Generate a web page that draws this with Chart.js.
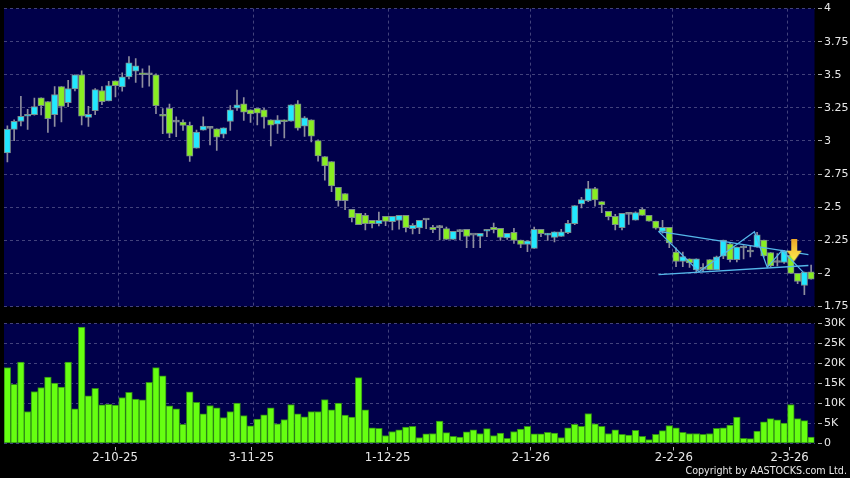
<!DOCTYPE html>
<html>
<head>
<meta charset="utf-8">
<title>Chart</title>
<script src="https://cdn.jsdelivr.net/npm/chart.js@4"></script>
<style>
    html, body { margin: 0; padding: 0; background: #000; overflow: hidden; }
    canvas { position: absolute; left: 0; }
    #priceChart { top: 0; }
    #volumeChart { top: 315px; }
</style>
</head>
<body>
<canvas id="priceChart" width="850" height="315"></canvas>
<canvas id="volumeChart" width="850" height="163"></canvas>
<script>
// Trading days, d-m-yy
const categories = [
    '9-9-25','10-9-25','11-9-25','12-9-25','15-9-25','16-9-25','17-9-25','18-9-25','19-9-25','22-9-25','23-9-25','24-9-25','25-9-25','26-9-25','29-9-25','30-9-25',
    '2-10-25','3-10-25','6-10-25','8-10-25','9-10-25','10-10-25','13-10-25','14-10-25','15-10-25','16-10-25','17-10-25','20-10-25','21-10-25','22-10-25','23-10-25','24-10-25','27-10-25','28-10-25','30-10-25','31-10-25',
    '3-11-25','4-11-25','5-11-25','6-11-25','7-11-25','10-11-25','11-11-25','12-11-25','13-11-25','14-11-25','17-11-25','18-11-25','19-11-25','20-11-25','21-11-25','24-11-25','25-11-25','26-11-25','27-11-25','28-11-25',
    '1-12-25','2-12-25','3-12-25','4-12-25','5-12-25','8-12-25','9-12-25','10-12-25','11-12-25','12-12-25','15-12-25','16-12-25','17-12-25','18-12-25','19-12-25','22-12-25','23-12-25','24-12-25','29-12-25','30-12-25','31-12-25',
    '2-1-26','5-1-26','6-1-26','7-1-26','8-1-26','9-1-26','12-1-26','13-1-26','14-1-26','15-1-26','16-1-26','19-1-26','20-1-26','21-1-26','22-1-26','23-1-26','26-1-26','27-1-26','28-1-26','29-1-26','30-1-26',
    '2-2-26','3-2-26','4-2-26','5-2-26','6-2-26','9-2-26','10-2-26','11-2-26','12-2-26','13-2-26','16-2-26','20-2-26','23-2-26','24-2-26','25-2-26','26-2-26','27-2-26',
    '2-3-26','3-3-26','4-3-26','5-3-26','6-3-26'
];

const opens = [
    2.910,3.087,3.147,3.187,3.199,3.326,3.298,3.199,3.410,3.289,3.393,3.5,3.177,3.229,3.381,3.303,3.455,3.408,3.483,3.527,
    3.515,3.5,3.5,3.201,3.246,3.142,3.142,3.119,2.945,3.082,3.095,3.092,3.052,3.147,3.247,3.28,3.235,3.247,3.235,3.16,
    3.127,3.16,3.15,3.28,3.112,3.16,3.002,2.882,2.844,2.649,2.603,2.483,2.453,2.438,2.4,2.375,2.431,2.39,2.4,2.438,
    2.338,2.343,2.403,2.348,2.345,2.338,2.256,2.315,2.333,2.288,2.278,2.318,2.348,2.34,2.268,2.31,2.251,2.218,2.188,2.333,
    2.288,2.271,2.278,2.308,2.375,2.525,2.547,2.64,2.542,2.468,2.43,2.345,2.445,2.401,2.483,2.438,2.394,2.317,2.347,2.161,
    2.089,2.109,2.025,2.03,2.104,2.025,2.129,2.223,2.104,2.191,2.161,2.198,2.252,2.156,2.082,2.082,2.136,2,1.908,2.012
];
const highs = [
    3.114,3.159,3.338,3.239,3.323,3.326,3.298,3.410,3.410,3.458,3.5,3.53,3.261,3.396,3.41,3.45,3.455,3.515,3.637,3.622,
    3.545,3.567,3.507,3.244,3.279,3.182,3.159,3.142,3.082,3.182,3.105,3.092,3.1,3.268,3.385,3.328,3.235,3.247,3.247,3.16,
    3.192,3.16,3.273,3.305,3.185,3.16,3.009,2.882,2.844,2.649,2.603,2.483,2.453,2.453,2.4,2.463,2.431,2.431,2.438,2.438,
    2.375,2.4,2.408,2.363,2.363,2.35,2.318,2.33,2.333,2.288,2.303,2.333,2.38,2.34,2.303,2.34,2.251,2.246,2.35,2.333,
    2.303,2.313,2.333,2.4,2.512,2.575,2.695,2.65,2.542,2.468,2.445,2.453,2.453,2.465,2.495,2.438,2.394,2.401,2.347,2.193,
    2.161,2.109,2.109,2.074,2.104,2.131,2.252,2.235,2.198,2.21,2.21,2.309,2.252,2.156,2.149,2.173,2.149,2,2.01,2.062
];
const lows = [
    2.841,3.002,3.114,3.087,3.194,3.196,3.065,3.109,3.144,3.259,3.378,3.122,3.109,3.199,3.274,3.303,3.333,3.376,3.468,3.443,
    3.405,3.413,3.206,3.055,3.025,3.032,3.08,2.846,2.945,3.082,2.97,2.929,3.022,3.08,3.23,3.155,3.14,3.122,3.097,2.962,
    3.057,3.022,3.15,3.082,3.034,2.992,2.847,2.704,2.616,2.508,2.481,2.388,2.368,2.328,2.343,2.358,2.36,2.328,2.333,2.313,
    2.298,2.3,2.338,2.308,2.253,2.256,2.256,2.253,2.193,2.193,2.193,2.276,2.305,2.248,2.256,2.226,2.193,2.163,2.188,2.276,
    2.248,2.238,2.278,2.3,2.368,2.495,2.542,2.507,2.458,2.403,2.328,2.328,2.37,2.401,2.438,2.394,2.334,2.304,2.193,2.05,
    2.05,2.045,2.012,2.012,2.025,2.025,2.111,2.087,2.087,2.109,2.124,2.198,2.124,2.05,2.055,2.074,2,1.921,1.839,1.955
];
const closes = [
    3.089,3.149,3.187,3.201,3.259,3.266,3.169,3.351,3.261,3.396,3.5,3.187,3.201,3.388,3.296,3.418,3.418,3.485,3.59,3.567,
    3.5,3.5,3.266,3.187,3.057,3.142,3.117,2.885,3.067,3.112,3.095,3.029,3.1,3.235,3.273,3.217,3.205,3.21,3.18,3.12,
    3.16,3.145,3.273,3.097,3.175,3.037,2.887,2.811,2.661,2.548,2.548,2.42,2.368,2.375,2.375,2.4,2.393,2.431,2.438,2.345,
    2.363,2.4,2.403,2.33,2.345,2.256,2.318,2.315,2.278,2.288,2.303,2.333,2.33,2.271,2.303,2.248,2.218,2.246,2.333,2.3,
    2.303,2.313,2.313,2.378,2.512,2.557,2.64,2.555,2.517,2.428,2.368,2.453,2.445,2.458,2.438,2.394,2.342,2.347,2.23,2.089,
    2.126,2.079,2.109,2.03,2.025,2.124,2.252,2.104,2.198,2.191,2.161,2.29,2.131,2.055,2.082,2.168,2,1.938,2.01,1.955
];
const volumes = [
    19000,14800,20400,8000,13000,14000,16600,15100,14100,20400,8700,29100,11900,13800,9700,9800,9600,11500,12800,11100,
    10900,15300,19000,16900,9400,8700,4800,12900,10300,7400,9500,8900,6500,8000,10100,7000,4400,6100,7200,8900,
    4900,6000,9750,7400,6700,8000,8000,11000,8400,10100,7100,6600,16500,8400,3900,3800,2000,3000,3400,4100,
    4300,1500,2400,2500,5600,2700,1800,1600,2900,3400,2500,3700,2000,2600,1300,3000,3600,4300,2400,2400,
    2800,2600,1500,3900,4800,4300,7500,4900,4300,2500,3400,2300,2100,3300,1800,1000,2300,3200,4500,3900,
    2800,2500,2500,2300,2500,3800,3900,4600,6600,1300,1200,3100,5400,6200,5900,5100,9750,6200,5700,1600
];

// Axis labels
const dateTickLabels = ['2-10-25', '3-11-25', '1-12-25', '2-1-26', '2-2-26', '2-3-26'];
const priceTicks = [1.75, 2, 2.25, 2.5, 2.75, 3, 3.25, 3.5, 3.75, 4];
const volumeTicks = [0, 5000, 10000, 15000, 20000, 25000, 30000];

// Hand drawn lines on the price panel, x is the trading day number
const upperTrend = [{ x: 96.4, y: 2.317 }, { x: 118.6, y: 2.141 }];
const lowerTrend = [{ x: 96.4, y: 1.990 }, { x: 118.6, y: 2.059 }];
const zigzag = [
    { x: 96.4, y: 2.317 }, { x: 102.4, y: 2.012 }, { x: 110.6, y: 2.314 },
    { x: 112.5, y: 2.045 }, { x: 114.7, y: 2.173 }, { x: 117.9, y: 2.005 }
];
const signalArrow = [{ x: 116.5, y: 2.175 }];

const COLORS = {
    panel: '#00004a',
    grid: '#42427c',
    text: '#e8e8e8',
    tick: '#b0b0b0',
    wick: '#8e8e9e',
    bodyEdge: '#7c8c8c',
    up: '#22e8ff',
    down: '#88ee22',
    flat: '#8e8e9e',
    volume: '#66ff11',
    volumeBorder: '#2f8a16',
    trend: '#55b8ea'
};
const FONT = { family: '"DejaVu Sans", sans-serif', size: 11 };
const DASH = [3, 3];

// Fill the plot area with the navy panel colour
const panelBackground = {
    id: 'panelBackground',
    beforeDraw(chart) {
        const a = chart.chartArea;
        chart.ctx.save();
        chart.ctx.fillStyle = COLORS.panel;
        chart.ctx.fillRect(a.left, a.top, a.right - a.left, a.bottom - a.top);
        chart.ctx.restore();
    }
};

// Yellow down arrow, used as a point image
function makeArrow() {
    const c = document.createElement('canvas');
    c.width = 16;
    c.height = 23;
    const g = c.getContext('2d');
    const grad = g.createLinearGradient(0, 0, 0, 23);
    grad.addColorStop(0, '#eca628');
    grad.addColorStop(1, '#fff050');
    g.fillStyle = grad;
    g.beginPath();
    g.moveTo(5, 0);
    g.lineTo(11, 0);
    g.lineTo(11, 12);
    g.lineTo(15.5, 12);
    g.lineTo(8, 22.5);
    g.lineTo(0.5, 12);
    g.lineTo(5, 12);
    g.closePath();
    g.fill();
    return c;
}

// Gridlines sit on the boundary after the first trading day of each month
function monthGridTicks(scale) {
    scale.ticks = dateTickLabels.map(label => ({ value: categories.indexOf(label) + 0.5 }));
}

function gridOptions() {
    return { color: COLORS.grid, lineWidth: 1, drawTicks: false, tickLength: 0, offset: false };
}

function commonOptions(padding) {
    return {
        responsive: false,
        animation: false,
        devicePixelRatio: 1,
        layout: { autoPadding: false, padding: padding },
        plugins: { legend: { display: false }, tooltip: { enabled: false } }
    };
}

const bodyColors = closes.map((c, i) => c > opens[i] ? COLORS.up : c < opens[i] ? COLORS.down : COLORS.flat);

// Price chart
new Chart(document.getElementById('priceChart'), {
    type: 'bar',
    data: {
        labels: categories,
        datasets: [
            {
                type: 'line', xAxisID: 'xLine', yAxisID: 'y', order: 0,
                data: signalArrow, showLine: false,
                pointStyle: makeArrow(), pointRadius: 8, pointHoverRadius: 8
            },
            {
                type: 'line', xAxisID: 'xLine', yAxisID: 'y', order: 1, data: upperTrend,
                borderColor: COLORS.trend, borderWidth: 1.3, pointRadius: 0, tension: 0
            },
            {
                type: 'line', xAxisID: 'xLine', yAxisID: 'y', order: 1, data: lowerTrend,
                borderColor: COLORS.trend, borderWidth: 1.3, pointRadius: 0, tension: 0
            },
            {
                type: 'line', xAxisID: 'xLine', yAxisID: 'y', order: 1, data: zigzag,
                borderColor: COLORS.trend, borderWidth: 1.3, pointRadius: 0, tension: 0
            },
            {
                label: 'Body', order: 2, xAxisID: 'x', yAxisID: 'y', grouped: false,
                data: opens.map((o, i) => [o, closes[i]]),
                backgroundColor: bodyColors,
                borderColor: COLORS.bodyEdge, borderWidth: 1, borderSkipped: false,
                barThickness: 6.4, minBarLength: 2
            },
            {
                label: 'Wick', order: 3, xAxisID: 'x', yAxisID: 'y', grouped: false,
                data: lows.map((l, i) => [l, highs[i]]),
                backgroundColor: COLORS.wick, borderWidth: 0,
                barThickness: 1
            }
        ]
    },
    options: Object.assign(commonOptions({ left: 4, top: 5.6, right: 0, bottom: 8.4 }), {
        scales: {
            x: {
                type: 'category', offset: true,
                grid: { display: false },
                border: { display: false },
                ticks: { display: false, autoSkip: false },
                afterFit: s => { s.height = 0; }
            },
            // Linear twin of x, carries the month gridlines and the hand drawn lines
            xLine: {
                type: 'linear', min: -0.5, max: 119.5, offset: false,
                grid: gridOptions(),
                border: { display: false, dash: DASH },
                ticks: { display: false },
                afterBuildTicks: monthGridTicks,
                afterFit: s => { s.height = 0; }
            },
            y: {
                type: 'linear', position: 'right', min: 1.75, max: 4, weight: 0,
                grid: gridOptions(),
                border: { display: false, dash: DASH },
                ticks: { display: false },
                afterBuildTicks: s => { s.ticks = priceTicks.map(v => ({ value: v })); },
                afterFit: s => { s.width = 3.5; }
            },
            yLabels: {
                type: 'linear', position: 'right', min: 1.75, max: 4, weight: 1,
                grid: { drawOnChartArea: false, tickLength: 4, tickColor: COLORS.tick, tickWidth: 1 },
                border: { display: false },
                ticks: { color: COLORS.text, font: FONT, padding: 2, callback: v => String(v) },
                afterBuildTicks: s => { s.ticks = priceTicks.map(v => ({ value: v })); },
                afterFit: s => { s.width = 32; }
            }
        }
    }),
    plugins: [panelBackground]
});

// Volume chart
new Chart(document.getElementById('volumeChart'), {
    type: 'bar',
    data: {
        labels: categories,
        datasets: [{
            label: 'Volume', xAxisID: 'x', yAxisID: 'y',
            data: volumes,
            backgroundColor: COLORS.volume,
            borderColor: COLORS.volumeBorder, borderWidth: 1, borderSkipped: false,
            barThickness: 6.75
        }]
    },
    options: Object.assign(commonOptions({ left: 4, top: 6.3, right: 3, bottom: 0 }), {
        scales: {
            x: {
                type: 'category', offset: true, position: 'bottom', weight: 0,
                grid: { display: false },
                border: { display: false },
                ticks: { display: false, autoSkip: false },
                afterFit: s => { s.height = 0; }
            },
            xLine: {
                type: 'linear', min: -0.5, max: 119.5, offset: false, position: 'bottom', weight: 1,
                grid: gridOptions(),
                border: { display: false, dash: DASH },
                ticks: { display: false },
                afterBuildTicks: monthGridTicks,
                afterFit: s => { s.height = 4; }
            },
            // Date labels creep slightly right of the gridlines across the width, as in the source
            xLabels: {
                type: 'linear', position: 'bottom', weight: 2, min: -0.29, max: 118.64, offset: false,
                grid: { offset: false, drawOnChartArea: false, tickLength: 3, tickColor: COLORS.tick, tickWidth: 1 },
                border: { display: false },
                ticks: {
                    color: COLORS.text, font: { family: FONT.family, size: 11.7 }, padding: 0, maxRotation: 0, autoSkip: false,
                    callback: v => categories[v]
                },
                afterBuildTicks: s => { s.ticks = dateTickLabels.map(l => ({ value: categories.indexOf(l) })); },
                afterFit: s => { s.height = 18; }
            },
            y: {
                type: 'linear', position: 'right', min: 0, max: 30000, weight: 0,
                grid: gridOptions(),
                border: { display: false, dash: DASH },
                ticks: { display: false },
                afterBuildTicks: s => { s.ticks = volumeTicks.map(v => ({ value: v })); },
                afterFit: s => { s.width = 3.5; }
            },
            yLabels: {
                type: 'linear', position: 'right', min: 0, max: 30000, weight: 1,
                grid: { drawOnChartArea: false, tickLength: 4, tickColor: COLORS.tick, tickWidth: 1 },
                border: { display: false },
                ticks: { color: COLORS.text, font: FONT, padding: 2, callback: v => v === 0 ? '0' : (v / 1000) + 'K' },
                afterBuildTicks: s => { s.ticks = volumeTicks.map(v => ({ value: v })); },
                afterFit: s => { s.width = 29; }
            }
        },
        plugins: {
            legend: { display: false },
            tooltip: { enabled: false },
            title: {
                display: true, position: 'bottom', align: 'end',
                text: 'Copyright by AASTOCKS.com Ltd.',
                color: COLORS.text,
                font: { family: FONT.family, size: 9.6, weight: 'normal' },
                padding: { top: 0, bottom: 1 }
            }
        }
    }),
    plugins: [panelBackground]
});
</script>
</body>
</html>
